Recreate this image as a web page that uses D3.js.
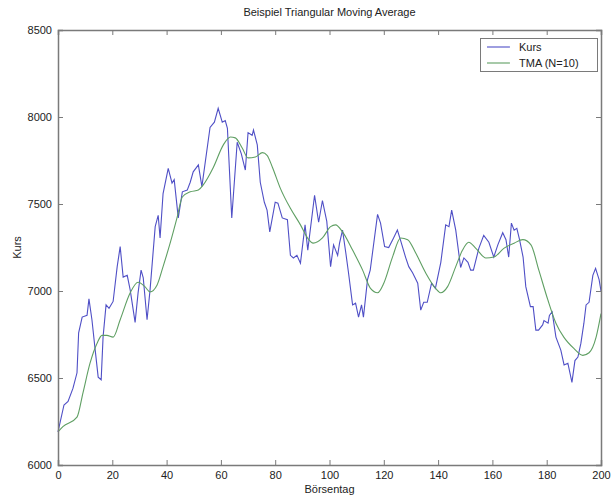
<!DOCTYPE html>
<html>
<head>
<meta charset="utf-8">
<script src="https://cdn.jsdelivr.net/npm/d3@7"></script>
<style>
  html, body { margin: 0; padding: 0; background: #fff; }
  svg { display: block; font-family: "Liberation Sans", Arial, sans-serif; }
</style>
</head>
<body>
<svg id="chart" width="613" height="497"></svg>
<script>
// ---- data ----
const kursDays = [0,2.2,3.7,5.5,7,7.6,8.9,10.7,11.4,12.5,13.7,14.8,15.9,16.6,17.7,18.8,20.3,21.8,22.9,24,25.5,26.6,28.4,29.5,30.6,31.4,32.8,33.9,35.8,36.9,37.6,38.7,40.6,42,42.8,44.3,45.8,47.6,48.7,49.8,51.7,53,56,57.6,59,60.5,61.6,62.4,64,66,67.5,69,70,71.5,72,73.4,74.5,76,77,78,80,81,82.6,84.5,85.6,86.7,88,89.3,91,92,94.5,96,97.4,99,100.4,101.5,103,103.7,104.8,106,107,108.5,109.6,110.7,111.8,112.5,114,115,117.7,118.8,120.3,121.8,123.6,125,126.2,128,129.2,130.6,132.5,133.6,134.7,136,137.6,139,141,142.8,144,145,146.5,148.3,149.5,151,152,153,155,156.8,158.7,160.5,162,163.8,165,166,167,168,169,170,171.3,172.3,174,175,176,177,178.5,179,180.5,181,182,183.4,185.2,186.4,187.8,189.3,190.4,191.5,192.6,193.7,194.5,195.6,197,198,199.3,200];
const kursValues = [6190,6345,6365,6440,6530,6760,6850,6860,6955,6835,6660,6505,6490,6735,6920,6900,6940,7140,7255,7080,7090,7005,6820,6990,7120,7075,6835,7005,7370,7435,7305,7560,7705,7620,7640,7420,7570,7580,7625,7685,7725,7600,7940,7970,8050,7970,7980,7935,7420,7855,7790,7695,7910,7895,7925,7840,7625,7510,7465,7340,7510,7505,7420,7410,7205,7190,7205,7160,7380,7235,7550,7395,7520,7400,7140,7265,7205,7275,7350,7220,7105,6920,6930,6850,6920,6850,7065,7120,7440,7390,7255,7250,7305,7350,7290,7195,7140,7105,7045,6890,6935,6935,7045,7015,7165,7380,7370,7465,7350,7135,7190,7165,7120,7120,7245,7320,7280,7195,7265,7335,7295,7195,7390,7350,7360,7295,7195,7025,6910,6910,6775,6775,6805,6830,6815,6860,6880,6735,6660,6575,6585,6475,6600,6620,6700,6815,6920,6935,7090,7130,7065,7000];

const tmaDays = [0,1.8,7,9.2,11.8,14.4,16.2,18,20.3,22.9,26.6,29.5,32,33.9,36.5,38.7,41.3,43.9,45.8,48.7,51.7,53.5,57.2,60.9,63.5,65.3,67.9,70,72.7,75.3,77,79,81.9,85.6,89.3,91.9,94,97.4,100.4,102.2,104.8,108.5,112.2,115.1,117.7,120,123.2,126.2,128.8,131.7,135.4,139.1,141,143.5,146.5,149,151.3,153.9,157.6,160.5,164.2,168,171.2,174.2,177.1,180.4,183.4,186.3,190,193.3,195.6,198.2,200];
const tmaValues = [6190,6220,6275,6415,6585,6700,6745,6745,6735,6835,6990,7050,7025,6995,7035,7140,7275,7425,7540,7570,7580,7610,7710,7840,7885,7880,7820,7765,7770,7795,7780,7710,7590,7475,7380,7305,7275,7305,7370,7380,7340,7235,7120,7015,6990,7045,7195,7305,7295,7220,7105,7015,6990,7025,7140,7235,7280,7245,7190,7195,7245,7275,7295,7265,7120,6950,6815,6735,6670,6630,6645,6735,6870];

const xTicks = [0,20,40,60,80,100,120,140,160,180,200];
const yTicks = [6000,6500,7000,7500,8000,8500];
const seriesNames = ["Kurs","TMA (N=10)"];
const seriesColors = ["#4f4fc6","#5f9f63"];
const titleText = "Beispiel Triangular Moving Average";
const xLabelText = "Börsentag";
const yLabelText = "Kurs";

// ---- layout ----
const svg = d3.select("#chart");
const L = 58, R = 601, T = 30, B = 465;
const axisColor = "#7a7a7a";
const textColor = "#222";

const x = d3.scaleLinear().domain([0, 200]).range([L, R]);
const y = d3.scaleLinear().domain([6000, 8500]).range([B, T]);

// lines
const kursData = kursDays.map((d, i) => [d, kursValues[i]]);
const tmaData = tmaDays.map((d, i) => [d, tmaValues[i]]);

const line = d3.line().x(d => x(d[0])).y(d => y(d[1]));
const smooth = d3.line().x(d => x(d[0])).y(d => y(d[1])).curve(d3.curveMonotoneX);

svg.append("path").datum(kursData).attr("d", line)
  .attr("fill", "none").attr("stroke", seriesColors[0]).attr("stroke-width", 1.1);
svg.append("path").datum(tmaData).attr("d", smooth)
  .attr("fill", "none").attr("stroke", seriesColors[1]).attr("stroke-width", 1.1);

// axes with inward ticks (MATLAB style)
const fs = "11px";
const gB = svg.append("g").attr("transform", `translate(0,${B})`)
  .call(d3.axisBottom(x).tickValues(xTicks).tickSize(-5).tickPadding(6).tickFormat(d3.format("d")));
const gT = svg.append("g").attr("transform", `translate(0,${T})`)
  .call(d3.axisTop(x).tickValues(xTicks).tickSize(-5).tickFormat(""));
const gL = svg.append("g").attr("transform", `translate(${L},0)`)
  .call(d3.axisLeft(y).tickValues(yTicks).tickSize(-5).tickPadding(6).tickFormat(d3.format("d")));
const gR = svg.append("g").attr("transform", `translate(${R},0)`)
  .call(d3.axisRight(y).tickValues(yTicks).tickSize(-5).tickFormat(""));

[gB, gT, gL, gR].forEach(g => {
  g.selectAll(".domain").attr("stroke", axisColor).attr("stroke-width", 1.5);
  g.selectAll(".tick line").attr("stroke", axisColor);
  g.selectAll(".tick text").attr("fill", textColor).style("font-size", fs)
    .style("font-family", '"Liberation Sans", Arial, sans-serif');
});

// titles
svg.append("text").attr("x", (L + R) / 2).attr("y", 16).attr("text-anchor", "middle")
  .attr("fill", textColor).style("font-size", "11px").text(titleText);
svg.append("text").attr("x", (L + R) / 2).attr("y", 493).attr("text-anchor", "middle")
  .attr("fill", textColor).style("font-size", "11px").text(xLabelText);
svg.append("text").attr("transform", `translate(21,${(T + B) / 2}) rotate(-90)`)
  .attr("text-anchor", "middle").attr("fill", textColor).style("font-size", "11px").text(yLabelText);

// legend
const lg = svg.append("g");
lg.append("rect").attr("x", 480.5).attr("y", 38.5).attr("width", 117).attr("height", 33)
  .attr("fill", "#fff").attr("stroke", axisColor).attr("stroke-width", 1);
seriesNames.forEach((name, i) => {
  const yy = 47 + i * 16;
  lg.append("line").attr("x1", 487).attr("x2", 510).attr("y1", yy).attr("y2", yy)
    .attr("stroke", seriesColors[i]).attr("stroke-width", 1.1);
  lg.append("text").attr("x", 519).attr("y", yy + 4).attr("fill", textColor)
    .style("font-size", "11px").text(name);
});
</script>
</body>
</html>
